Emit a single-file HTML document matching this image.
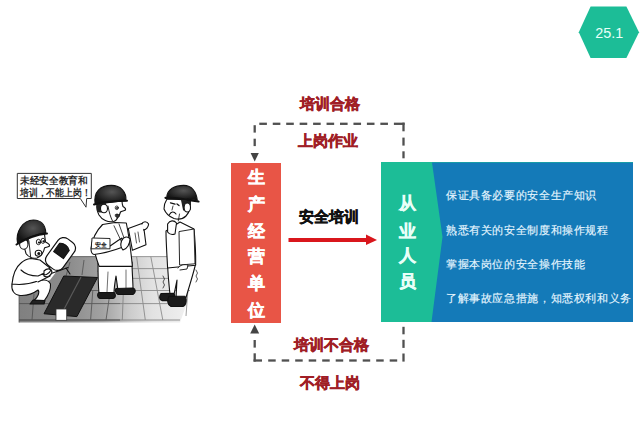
<!DOCTYPE html>
<html><head><meta charset="utf-8">
<style>
html,body{margin:0;padding:0;background:#fff;}
body{width:640px;height:443px;position:relative;overflow:hidden;font-family:"Liberation Sans",sans-serif;}
.abs{position:absolute;}
.lbl{position:absolute;font-size:15px;font-weight:bold;color:#a01e26;-webkit-text-stroke:0.5px currentColor;white-space:nowrap;line-height:16px;}
.redbox{position:absolute;left:231px;top:163px;width:50px;height:160px;background:#e85546;}
.vchar{position:absolute;left:0;width:50px;text-align:center;font-size:17px;font-weight:bold;color:#fff;line-height:18px;-webkit-text-stroke:0.5px currentColor;}
.tealbox{position:absolute;left:381px;top:162px;width:252px;height:160px;background:#1cbd97;}
.tchar{position:absolute;left:0;width:52px;text-align:center;font-size:17px;font-weight:bold;color:#e8fff8;line-height:18px;-webkit-text-stroke:0.5px currentColor;}
.item{position:absolute;left:446px;font-size:11px;letter-spacing:0.62px;-webkit-text-stroke:0.15px currentColor;color:#e6f6ff;white-space:nowrap;line-height:14px;}
</style></head><body>

<!-- CARTOON -->
<svg class="abs" style="left:0;top:0" width="640" height="443">
<defs>
 <linearGradient id="fl" x1="19" y1="0" x2="186" y2="0" gradientUnits="userSpaceOnUse">
  <stop offset="0" stop-color="#808080"/>
  <stop offset="0.3" stop-color="#8c8c8c"/>
  <stop offset="0.5" stop-color="#a2a2a2"/>
  <stop offset="0.67" stop-color="#cdcdcd"/>
  <stop offset="0.8" stop-color="#e2e2e2"/>
  <stop offset="1" stop-color="#efefef"/>
 </linearGradient>
 <radialGradient id="hel" cx="0.55" cy="0.35" r="0.6">
  <stop offset="0" stop-color="#555"/>
  <stop offset="1" stop-color="#151515"/>
 </radialGradient>
</defs>
<!-- floor -->
<polygon points="68,256.6 191,256.6 188,300 180,322.5 19,322.5 19,292 50,280" fill="url(#fl)"/>
<g stroke="#4a4a4a" stroke-width="0.9" fill="none" opacity="0.8">
 <path d="M68 256.6 H130"/>
 <path d="M19 320 H120" stroke-width="1.3"/>
 <path d="M19 292 V322.5"/>
 <path d="M80 290.5 H120"/>
 <path d="M19 303.6 H120"/>
 <path d="M92.8 290.5 L90.6 320"/>
 <path d="M110.3 290.5 L106 320"/>
 <path d="M34 294 L32 320"/>
 <path d="M70 262 L66 276 M84 260 L82 275 M100 258 L98 272 M118 262 L117 282"/>
</g>
<g stroke="#707070" stroke-width="0.9" fill="none" opacity="0.75">
 <path d="M130 256.6 H191"/>
 <path d="M120 320 H180" stroke-width="1.2"/>
 <path d="M132 268.6 H190"/>
 <path d="M132 278.4 H172"/>
 <path d="M120 290.5 H190"/>
 <path d="M120 303.6 H181"/>
 <path d="M136.6 256.6 L145.3 320"/>
 <path d="M150.8 256.6 L162.8 320"/>
 <path d="M123.4 290.5 L122.3 320"/>
 <path d="M188 288 L186 316"/>
</g>
<!-- dark plate -->
<polygon points="63.75,276 97.5,277.5 76.9,316.6 44,313.75" fill="#2a2a2a" stroke="#111" stroke-width="1"/>
<path d="M81 277 L61 315" stroke="#5a5a5a" stroke-width="1.2"/>
<!-- small tank -->
<rect x="56" y="309" width="10.7" height="11.3" fill="#fff" stroke="#333" stroke-width="0.8"/>

<g stroke="#111" stroke-width="1.1" stroke-linejoin="round" stroke-linecap="round">
<!-- LEFT WORKER -->
 <!-- pants -->
 <path d="M12 284 C11 290 14 295 20 295.5 C27 296 34 293 38 290 C40 292 38 297 34 300.5 L44 301 C48 296 51 290 50.5 284 C49 280 44 279 38 281 Z" fill="#fff"/>
 <path d="M33 300 L45 300.5 L44 304 L30 304 Z" fill="#222"/>
 <!-- body / shirt -->
 <path d="M31 258.5 C27 259 24 260 21 263 C16 267 13 274 12 284 C20 285 30 284 38 281 L47 275 L50 268 L40 260 Z" fill="#fff"/>
 <!-- arm -->
 <path d="M21 270 C25 274 31 276 38 276 L47 272 L50 276 L38 282" fill="#fff"/>
 <!-- torch -->
 <path d="M47 275 L68 267.5 M66 268 L70 274" fill="none"/>
 <path d="M44 271 C47 268 51 268 52 272 C51 276 47 278 44 276 Z" fill="#fff"/>
 <!-- head: ear + face -->
 <path d="M25 236 L44 232 C45 236 45 239 45.5 242 C47.5 243 50 244 49.5 246 C47.5 247.5 46 247 44.5 248 C44 252 41 256.5 37 258 C33 259 28.5 257 26 253.5 C24 248 24 242 25 236 Z" fill="#fff"/>
 <path d="M20 238 L29 237 L28.5 244 C25 246 22 246 20 244 Z" fill="#222" stroke="none"/>
 <ellipse cx="23.8" cy="244.2" rx="4.2" ry="5" fill="#fff"/>
 <path d="M28.9 240.8 L30.6 256.6" fill="none" stroke-width="0.9"/>
 <ellipse cx="38.5" cy="242" rx="2.2" ry="2.7" fill="#fff" stroke-width="0.9"/>
 <ellipse cx="43" cy="240.8" rx="2" ry="2.6" fill="#fff" stroke-width="0.9"/>
 <circle cx="39" cy="242.5" r="1.1" fill="#111" stroke="none"/>
 <circle cx="43.5" cy="241.3" r="1.1" fill="#111" stroke="none"/>
 <ellipse cx="38.5" cy="253.2" rx="3.3" ry="3" fill="#fff"/>
 <ellipse cx="38.8" cy="253.5" rx="1.5" ry="1.5" fill="#111" stroke="none"/>
 <!-- helmet -->
 <path d="M17.6 243.6 C15 232 23 220 33.4 220 C41 220 45.5 225 45.8 232.9 C38 234 26 238 17.6 243.6 Z" fill="url(#hel)"/>
 <path d="M16.5 244.5 C26 238.5 38 234.5 47 233.5" fill="none" stroke-width="2"/>
 <!-- welding mask -->
 <g transform="translate(60.5 254) rotate(36)">
  <rect x="-10" y="-16.5" width="20" height="33" rx="7" fill="#fff" stroke-width="1.2"/>
  <path d="M-7 -8 C-4 -11 2 -11 5 -8 L5 2 L-7 2 Z" fill="#1a1a1a"/>
 </g>
 <path d="M51 270 C49 274 45 276 42 274" fill="none"/>

<!-- MIDDLE WORKER -->
 <!-- legs -->
 <path d="M98 262 L132 262 C132 272 133 281 133 289 L118 290.5 L116 276 C115 282 114 288 114 293 L99 293.5 C98 283 98 272 98 262 Z" fill="#fff"/>
 <path d="M108 272 L107 292 M126 270 L126 288" fill="none" stroke-width="0.6"/>
 <!-- shoes -->
 <path d="M99 292.5 L114 292.5 C116 294 116 298 113 298.5 L100 298.5 C97 297.5 97 294 99 292.5 Z" fill="#1b1b1b"/>
 <path d="M116 288.5 L133 288 C136 289 136 293 133 294.5 L118 294.5 C115 293 115 290 116 288.5 Z" fill="#1b1b1b"/>
 <!-- torso -->
 <path d="M102.6 224.5 L115 222.5 L126.3 223 C129 236 131 252 132.4 266.4 L99.2 266.4 C96 258 94 250 93 244 Z" fill="#fff"/>
 <!-- left arm w band -->
 <path d="M102.6 224.5 C96 231 92 240 91 249 C91 252 92 254 94 254.5 C104 253.5 115 250 123 247 L122 238 C117 241 113 244 110 246" fill="#fff"/>
 <path d="M92.4 238 L110 238.5 L110 248.8 L91.5 248.8 Z" fill="#fff" stroke-width="0.9"/>
 <text x="94.5" y="246.5" font-size="5.5" font-weight="bold" fill="#222" stroke="none" font-family="Liberation Sans" textLength="12" lengthAdjust="spacingAndGlyphs">安全</text>
 <!-- tie/collar lines -->
 <path d="M114 225.8 L121.6 242 M119 224 L124 238" fill="none" stroke-width="0.8"/>
 <!-- paper -->
 <path d="M128.3 228.5 L143.2 223.1 L146 244.8 L132.4 250.2 Z" fill="#fff"/>
 <path d="M135 233 L136.5 243 M138 232 L139.5 242" fill="none" stroke-width="0.7"/>
 <!-- hand at paper bottom -->
 <path d="M121.5 241 C124 236 128 236 130 239 C130 244 127 249 123 250 C121 248 120.5 244 121.5 241 Z" fill="#fff"/>
 <path d="M141.9 224 C143 221 147 221 148.6 224 C148.5 227 146 229.9 143.5 229.9" fill="#fff"/>
 <!-- head -->
 <path d="M97 204 L122 201 C122 203 122.5 205 123 206.5 C125 207.5 126 208.5 125.5 210 C123.5 211 121.5 211 120.5 212 C120 214 119 216 118 217 C117 219.5 115.5 221 113.5 221.5 C108 222.5 102 220 99 215 C97 211 96.5 207 97 204 Z" fill="#fff"/>
 <path d="M96.5 204 L106 203 L105.5 211 C102 213 99 213 97 211 Z" fill="#222" stroke="none"/>
 <ellipse cx="104" cy="208.5" rx="3.5" ry="4.3" fill="#fff"/>
 <path d="M108 206 C109 212 110.5 217 112.5 221" fill="none" stroke-width="0.9"/>
 <ellipse cx="116.8" cy="207.8" rx="1.6" ry="1.8" fill="#fff" stroke-width="0.8"/>
 <circle cx="117" cy="208" r="0.9" fill="#111" stroke="none"/>
 <path d="M115.5 214.5 C117 213.5 119 214 119.5 216 C118.5 218 116.5 218 115.5 216.5 Z" fill="#333" stroke-width="0.7"/>
 <!-- helmet -->
 <path d="M95.1 204 C93.5 192 100 185.4 111.4 185.4 C121 185.4 126.5 192 126 200.6 C116 201 104 202 95.1 204 Z" fill="url(#hel)"/>
 <path d="M94 204.5 C104 202 116 200.8 127 200.8" fill="none" stroke-width="2"/>

<!-- RIGHT WORKER -->
 <!-- legs -->
 <path d="M167.6 265 L195.6 264 C193 275 189 287 186 297.6 L176 297.6 L177 280 L174 294.5 L170 294.5 C169 285 168 275 167.6 265 Z" fill="#fff"/>
 <!-- shoes -->
 <path d="M161 293.5 L173.5 293.2 C175.5 295 175 300 172 300.6 L162 300.6 C159 299.5 159 296 161 293.5 Z" fill="#1b1b1b"/>
 <path d="M169 296.2 L185 296.2 C187 299 186.5 305 183 306.5 L171 306.5 C167 304.5 167 300 169 296.2 Z" fill="#1b1b1b"/>
 <!-- fear marks -->
 <path d="M163 276 L164.5 279 L163 282 L164.5 285 L163 288 M196 270 L197.5 273 L196 276 L197.5 279 L196 282" fill="none" stroke-width="0.7"/>
 <!-- torso -->
 <path d="M166 231 L180 222 L194 229 C195 240 196 252 195.6 265.3 L167.6 268 C167 255 166 243 166 231 Z" fill="#fff"/>
 <!-- clipboard -->
 <path d="M179.4 231.5 L194 229 L195 263.8 L180 265 Z" fill="#fff" stroke-width="0.9"/>
 <!-- hand at bottom -->
 <path d="M178 268 C180 265 184 264 188 265 L187 269 L180 270" fill="#fff" stroke-width="0.9"/>
 <!-- hand at chin -->
 <path d="M167.6 224 C170 220 174 220 176.5 223 L175 234 C172 235 169 234 167.6 232 Z" fill="#fff"/>
 <!-- head -->
 <path d="M167 199 L190 199.5 C191 206 190 212 186 216 C183 219 178 219.5 174 218.5 C170 217 166 214 164 209 C164 205 165 202 167 199 Z" fill="#fff"/>
 <path d="M181 200 L191 200.5 L190.5 210 C188 212 185 212 183 210 Z" fill="#222" stroke="none"/>
 <ellipse cx="187.3" cy="207.5" rx="3.2" ry="4.5" fill="#fff"/>
 <path d="M170.5 202.8 L175 204.2 M177 204 L179 205.5" fill="none" stroke-width="1.3"/>
 <path d="M169.5 214.5 C171 211.5 174 211 176 214" fill="none"/>
 <path d="M173 206 L172 210" fill="none" stroke-width="0.8"/>
 <path d="M179.5 214 L178.3 221" fill="none" stroke-width="0.8"/>
 <!-- helmet -->
 <path d="M166.8 197.6 C167 189 175 185.4 183.7 185.4 C192 185.4 196.5 192 197.3 200.3 C188 199 176 198 166.8 197.6 Z" fill="url(#hel)"/>
 <path d="M165.5 197.8 C176 198.2 188 199.5 198.5 201.5" fill="none" stroke-width="2.2"/>
</g>

<!-- speech bubble -->
<path d="M17.3 173.4 H91.3 V198.5 H86.7 L86 207.2 L80.3 198.5 H17.3 Z" fill="#fff" stroke="#333" stroke-width="1"/>
<text x="19.8" y="184.4" font-size="9.8" font-weight="bold" fill="#2a2a2a" textLength="68" lengthAdjust="spacingAndGlyphs" font-family="Liberation Sans">未经安全教育和</text>
<text x="19.8" y="195.6" font-size="9.8" font-weight="bold" fill="#2a2a2a" textLength="71" lengthAdjust="spacingAndGlyphs" font-family="Liberation Sans">培训，不能上岗！</text>
</svg>
<!-- /CARTOON -->
<!-- hexagon -->
<svg class="abs" style="left:0;top:0" width="640" height="443">
  <polygon points="590.6,6.5 626.4,6.5 639,32.2 626.4,58 590.6,58 578.8,32.2" fill="#1cbd97"/>
  <text x="609.2" y="38" text-anchor="middle" font-family="Liberation Sans" font-size="14.4" fill="#e8fff8">25.1</text>

  <!-- dashed loops -->
  <g fill="#505050">
  <rect x="259.30" y="122.65" width="7.60" height="2.30"/>
  <rect x="272.75" y="122.65" width="7.60" height="2.30"/>
  <rect x="286.20" y="122.65" width="7.60" height="2.30"/>
  <rect x="299.65" y="122.65" width="7.60" height="2.30"/>
  <rect x="313.10" y="122.65" width="7.60" height="2.30"/>
  <rect x="326.55" y="122.65" width="7.60" height="2.30"/>
  <rect x="340.00" y="122.65" width="7.60" height="2.30"/>
  <rect x="353.45" y="122.65" width="7.60" height="2.30"/>
  <rect x="366.90" y="122.65" width="7.60" height="2.30"/>
  <rect x="380.35" y="122.65" width="7.60" height="2.30"/>
  <rect x="393.90" y="122.65" width="10.70" height="2.30"/>
  <rect x="402.35" y="122.65" width="2.30" height="8.65"/>
  <rect x="402.35" y="137.60" width="2.30" height="8.00"/>
  <rect x="402.35" y="151.30" width="2.30" height="7.00"/>
  <rect x="253.55" y="125.20" width="2.30" height="7.40"/>
  <rect x="253.55" y="138.70" width="2.30" height="7.40"/>
  <rect x="253.55" y="340.00" width="2.30" height="7.60"/>
  <rect x="253.55" y="353.30" width="2.30" height="8.30"/>
  <rect x="253.55" y="359.35" width="8.45" height="2.30"/>
  <rect x="268.20" y="359.35" width="7.50" height="2.30"/>
  <rect x="281.70" y="359.35" width="7.50" height="2.30"/>
  <rect x="295.20" y="359.35" width="7.50" height="2.30"/>
  <rect x="308.70" y="359.35" width="7.50" height="2.30"/>
  <rect x="322.20" y="359.35" width="7.50" height="2.30"/>
  <rect x="335.70" y="359.35" width="7.50" height="2.30"/>
  <rect x="349.20" y="359.35" width="7.50" height="2.30"/>
  <rect x="362.70" y="359.35" width="7.50" height="2.30"/>
  <rect x="376.20" y="359.35" width="7.50" height="2.30"/>
  <rect x="389.70" y="359.35" width="7.50" height="2.30"/>
  <rect x="402.35" y="326.80" width="2.30" height="7.50"/>
  <rect x="402.35" y="339.80" width="2.30" height="8.10"/>
  <rect x="402.35" y="353.50" width="2.30" height="8.10"/>
  </g>
  <polygon points="250.6,152.9 258.8,152.9 254.7,161.6" fill="#444"/>
  <polygon points="250.2,333.6 259.2,333.6 254.7,324.4" fill="#444"/>
  <!-- red arrow -->
  <rect x="288.5" y="238" width="78" height="4" fill="#d9161c"/>
  <polygon points="366,234.5 377,240 366,245" fill="#d9161c"/>

</svg>

<div class="lbl" style="left:300px;top:96px;">培训合格</div>
<div class="lbl" style="left:298px;top:133px;">上岗作业</div>
<div class="lbl" style="left:294px;top:337px;">培训不合格</div>
<div class="lbl" style="left:300px;top:375px;">不得上岗</div>
<div class="lbl" style="left:299px;top:209px;color:#111;font-size:15.2px;">安全培训</div>

<div class="redbox"></div>
<div class="vchar" style="left:231px;top:169.3px;">生</div>
<div class="vchar" style="left:231px;top:195.6px;">产</div>
<div class="vchar" style="left:231px;top:222.7px;">经</div>
<div class="vchar" style="left:231px;top:248.0px;">营</div>
<div class="vchar" style="left:231px;top:275.2px;">单</div>
<div class="vchar" style="left:231px;top:302.3px;">位</div>
<div class="tealbox"></div>
<div class="tchar" style="left:381px;top:194.5px;">从</div>
<div class="tchar" style="left:381px;top:222.5px;">业</div>
<div class="tchar" style="left:381px;top:247px;">人</div>
<div class="tchar" style="left:381px;top:273px;">员</div>
<svg class="abs" style="left:0;top:0" width="640" height="443"><polygon points="432,162.5 633,162.5 633,322 431.5,322 442.5,237" fill="#147ab8"/></svg>
<div class="item" style="top:187.5px;">保证具备必要的安全生产知识</div>
<div class="item" style="top:223.0px;">熟悉有关的安全制度和操作规程</div>
<div class="item" style="top:256.5px;">掌握本岗位的安全操作技能</div>
<div class="item" style="top:291.0px;">了解事故应急措施，知悉权利和义务</div>

</body></html>
